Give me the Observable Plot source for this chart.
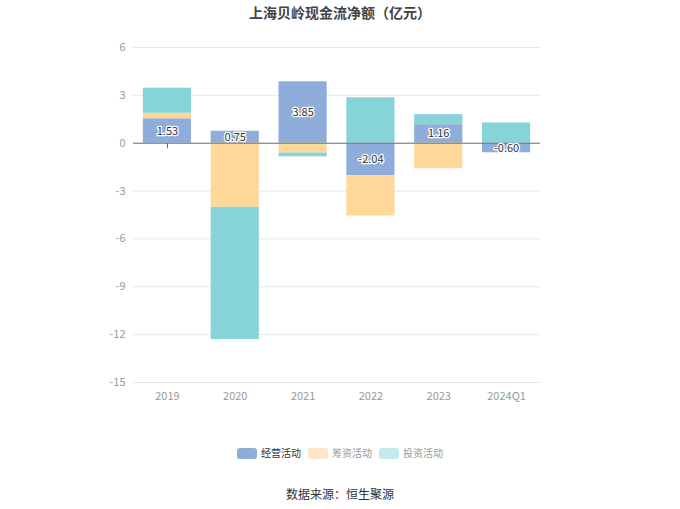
<!DOCTYPE html>
<html>
<head>
<meta charset="utf-8">
<script src="https://cdn.jsdelivr.net/npm/d3@7"></script>
<script src="https://cdn.jsdelivr.net/npm/@observablehq/plot@0.6"></script>
<style>
  body { margin: 0; background: #fff; font-family: "Noto Sans CJK SC", "Noto Sans", sans-serif; }
  #wrap { position: relative; width: 680px; height: 509px; overflow: hidden; }
  #title { position: absolute; top: 2px; left: 0; width: 680px; text-align: center; font-size: 14px; font-weight: bold; color: #444; line-height: 20px; }
  #legend { position: absolute; top: 446px; left: 0; width: 680px; display: flex; justify-content: center; font-size: 10px; line-height: 14px; }
  .item { display: flex; align-items: center; margin: 0 3.5px; }
  .sw { width: 20px; height: 11px; border-radius: 3px; margin-right: 4px; }
  #caption { position: absolute; top: 485px; left: 0; width: 680px; text-align: center; font-size: 12px; color: #333; line-height: 18px; }
  #chart { position: absolute; top: 0; left: 0; }
</style>
</head>
<body>
<div id="wrap">
  <div id="title">上海贝岭现金流净额（亿元）</div>
  <div id="chart"></div>
  <div id="legend"></div>
  <div id="caption">数据来源：恒生聚源</div>
</div>
<script>
const categories = ["2019", "2020", "2021", "2022", "2023", "2024Q1"];
const seriesNames = ["经营活动", "筹资活动", "投资活动"];
const operating = [1.53, 0.75, 3.85, -2.04, 1.16, -0.60];
const financing = [0.35, -4.02, -0.62, -2.52, -1.60, 0.00];
const investing = [1.57, -8.29, -0.23, 2.85, 0.63, 1.27];
const yTicks = [6, 3, 0, -3, -6, -9, -12, -15];
const colors = ["#8FADDB", "#FFD899", "#87D4D8"];
const legendSwatch = ["#8FADDB", "#FFE6C7", "#C3EAEC"];
const legendText = ["#333", "#999", "#999"];

const rows = [];
[operating, financing, investing].forEach((arr, si) => {
  arr.forEach((v, i) => rows.push({cat: categories[i], series: seriesNames[si], value: v}));
});
const opRows = categories.map((c, i) => ({cat: c, value: operating[i]}));

const chart = Plot.plot({
  width: 680,
  height: 509,
  marginTop: 47,
  marginBottom: 127,
  marginLeft: 133,
  marginRight: 140,
  style: {fontFamily: "'Noto Sans CJK SC', 'Noto Sans', sans-serif", fontSize: "11px", color: "#999", background: "transparent"},
  x: {domain: categories, paddingInner: 0.29, paddingOuter: 0.145, round: false, label: null, tickSize: 0, tickPadding: 10},
  y: {domain: [-15, 6], ticks: yTicks, tickFormat: d => d, label: null, tickSize: 0, tickPadding: 8},
  color: {domain: seriesNames, range: colors},
  marks: [
    Plot.ruleY(yTicks, {stroke: "#E4E6F0", strokeWidth: 1}),
    Plot.ruleX(categories, {x: d => d, y1: 0, y2: -0.35, stroke: "#666"}),
    Plot.barY(rows, Plot.stackY({x: "cat", y: "value", fill: "series", order: seriesNames})),
    Plot.ruleY([0], {stroke: "#6E7079", strokeWidth: 1}),
    Plot.text(opRows, {x: "cat", y: d => d.value / 2, text: d => d.value.toFixed(2), fill: "#333", stroke: "white", strokeWidth: 2.5, fontSize: 11})
  ]
});
document.getElementById("chart").appendChild(chart);

const legend = document.getElementById("legend");
seriesNames.forEach((n, i) => {
  const it = document.createElement("div");
  it.className = "item";
  it.innerHTML = `<div class="sw" style="background:${legendSwatch[i]}"></div><span style="color:${legendText[i]}">${n}</span>`;
  legend.appendChild(it);
});
</script>
</body>
</html>
